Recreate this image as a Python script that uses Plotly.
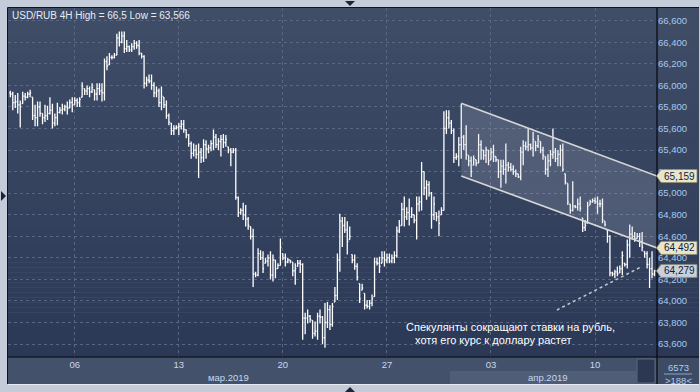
import plotly.graph_objects as go

# ---------------- data (USD/RUB, 4H bars) ----------------
high = [
65.95,65.94,65.91,65.93,65.86,65.94,65.93,65.94,65.96,65.89,
65.82,65.85,65.85,65.74,65.82,65.81,65.89,65.83,65.74,65.84,
65.80,65.83,65.82,65.85,65.87,65.89,65.89,65.88,65.89,66.03,
65.97,66.00,65.99,66.02,65.96,66.02,66.02,66.02,66.25,66.27,
66.30,66.28,66.30,66.48,66.50,66.50,66.50,66.42,66.37,66.39,
66.42,66.41,66.42,66.30,66.28,66.08,66.10,66.10,66.03,65.99,
65.97,65.99,65.89,65.86,65.74,65.65,65.63,65.63,65.65,65.68,
65.68,65.59,65.55,65.48,65.46,65.45,65.46,65.42,65.50,65.49,
65.45,65.49,65.59,65.55,65.51,65.54,65.55,65.54,65.43,65.42,
65.42,65.42,64.97,64.86,64.91,64.89,64.78,64.69,64.67,64.27,
64.49,64.47,64.46,64.40,64.43,64.46,64.43,64.38,64.35,64.58,
64.44,64.44,64.40,64.38,64.36,64.35,64.38,64.38,64.35,63.89,
63.92,63.87,63.82,63.81,63.89,63.92,63.86,63.98,63.99,63.96,
63.98,64.13,64.44,64.81,64.78,64.78,64.74,64.69,64.43,64.43,
64.35,64.16,64.16,64.07,64.01,64.01,64.06,64.40,64.40,64.41,
64.46,64.46,64.44,64.44,64.43,64.46,64.69,64.75,64.91,64.97,
64.87,64.95,64.87,64.80,64.97,64.97,65.29,65.20,65.12,65.11,
65.01,64.97,64.82,64.84,64.87,65.76,65.77,65.77,65.68,65.60,
65.37,65.52,65.83,65.54,65.63,65.35,65.34,65.35,65.31,65.55,
65.49,65.40,65.43,65.40,65.42,65.45,65.34,65.31,65.31,65.31,
65.46,65.29,65.28,65.26,65.22,65.18,65.43,65.49,65.48,65.60,
65.46,65.57,65.48,65.54,65.48,65.43,65.34,65.36,65.40,65.60,
65.42,65.40,65.45,65.46,65.18,65.09,64.90,65.11,64.89,64.95,
64.97,64.77,64.75,64.92,64.94,64.95,64.96,64.97,64.94,64.95,
64.74,64.66,64.61,64.27,64.29,64.32,64.33,64.46,64.35,64.57,
64.71,64.69,64.64,64.63,64.63,64.64,64.46,64.46,64.40,64.46,
64.29]

low = [
65.89,65.77,65.79,65.74,65.61,65.83,65.86,65.88,65.89,65.68,
65.62,65.62,65.71,65.64,65.66,65.68,65.73,65.60,65.62,65.63,
65.74,65.73,65.76,65.73,65.79,65.75,65.82,65.80,65.80,65.89,
65.91,65.91,65.89,65.93,65.86,65.86,65.91,65.85,65.86,66.14,
66.19,66.24,66.25,66.28,66.36,66.39,66.30,66.31,66.31,66.31,
66.33,66.34,66.28,66.25,65.97,65.99,66.02,65.96,65.89,65.89,
65.80,65.77,65.79,65.69,65.63,65.54,65.54,65.59,65.54,65.59,
65.56,65.51,65.43,65.32,65.34,65.32,65.14,65.28,65.29,65.32,
65.37,65.39,65.40,65.42,65.40,65.34,65.42,65.43,65.37,65.25,
65.37,64.94,64.78,64.80,64.75,64.69,64.66,64.57,64.13,64.22,
64.23,64.38,64.26,64.35,64.32,64.20,64.18,64.21,64.30,64.33,
64.38,64.32,64.35,64.35,64.23,64.15,64.32,64.26,63.64,63.69,
63.79,63.80,63.65,63.67,63.64,63.79,63.60,63.566,63.75,63.73,
63.76,63.99,64.01,64.27,64.50,64.63,64.43,64.57,64.35,64.29,
64.19,63.98,64.10,63.92,63.93,63.92,63.95,64.04,64.33,64.26,
64.35,64.32,64.35,64.35,64.35,64.35,64.40,64.63,64.70,64.69,
64.75,64.70,64.77,64.72,64.57,64.83,64.84,64.98,64.94,64.97,
64.67,64.75,64.74,64.60,64.80,64.84,65.55,65.60,65.55,65.28,
65.31,65.25,65.32,65.40,65.31,65.25,65.15,65.26,65.25,65.28,
65.31,65.31,65.28,65.26,65.31,65.29,65.29,65.14,65.05,65.17,
65.09,65.20,65.20,65.17,65.15,65.14,65.12,65.26,65.40,65.39,
65.40,65.34,65.39,65.42,65.37,65.31,65.17,65.15,65.25,65.32,
65.29,65.25,65.25,65.20,65.08,64.89,64.81,64.83,64.86,64.84,
64.83,64.64,64.65,64.72,64.89,64.91,64.90,64.81,64.87,64.72,
64.69,64.54,64.23,64.23,64.21,64.23,64.26,64.24,64.32,64.30,
64.40,64.57,64.55,64.58,64.50,64.46,64.40,64.30,64.12,64.21,
64.23]

open_ = [
65.93,65.92,65.84,65.85,65.82,65.83,65.90,65.89,65.92,65.89,
65.72,65.70,65.80,65.74,65.70,65.72,65.74,65.77,65.65,65.70,
65.75,65.77,65.78,65.80,65.79,65.84,65.82,65.86,65.84,65.89,
65.97,65.95,65.97,65.94,65.96,65.92,65.97,65.95,65.93,66.22,
66.19,66.26,66.26,66.28,66.44,66.40,66.46,66.34,66.36,66.33,
66.36,66.39,66.37,66.30,66.27,66.02,66.05,66.04,66.00,65.93,
65.95,65.84,65.89,65.82,65.72,65.65,65.58,65.60,65.61,65.62,
65.64,65.59,65.54,65.46,65.37,65.40,65.36,65.38,65.33,65.45,
65.41,65.42,65.46,65.52,65.45,65.48,65.50,65.47,65.43,65.40,
65.38,65.40,64.96,64.82,64.84,64.80,64.76,64.69,64.60,64.25,
64.24,64.44,64.40,64.35,64.37,64.40,64.24,64.38,64.30,64.33,
64.44,64.40,64.36,64.38,64.36,64.28,64.32,64.35,64.34,63.84,
63.84,63.86,63.82,63.70,63.72,63.86,63.85,63.66,63.80,63.92,
63.78,63.99,64.05,64.38,64.74,64.70,64.66,64.57,64.43,64.38,
64.32,64.16,64.10,64.07,63.96,63.95,63.98,64.04,64.36,64.35,
64.35,64.40,64.38,64.40,64.37,64.40,64.42,64.65,64.70,64.85,
64.78,64.82,64.78,64.80,64.75,64.90,64.92,65.20,65.05,65.08,
65.00,64.80,64.82,64.78,64.80,64.84,65.60,65.70,65.65,65.58,
65.33,65.34,65.45,65.52,65.45,65.35,65.30,65.26,65.31,65.28,
65.45,65.40,65.35,65.40,65.31,65.38,65.34,65.31,65.20,65.25,
65.22,65.26,65.24,65.22,65.20,65.18,65.15,65.38,65.44,65.43,
65.45,65.42,65.48,65.44,65.48,65.40,65.34,65.22,65.30,65.36,
65.38,65.32,65.36,65.40,65.18,65.09,64.90,64.84,64.88,64.87,
64.90,64.77,64.68,64.72,64.89,64.92,64.93,64.92,64.90,64.90,
64.74,64.66,64.60,64.26,64.25,64.27,64.26,64.30,64.35,64.34,
64.52,64.62,64.60,64.58,64.60,64.55,64.46,64.44,64.34,64.30,
64.25]

close = [
65.92,65.84,65.85,65.82,65.80,65.90,65.89,65.92,65.93,65.72,
65.70,65.80,65.74,65.70,65.72,65.74,65.77,65.65,65.70,65.75,
65.77,65.78,65.80,65.79,65.84,65.82,65.86,65.84,65.87,65.99,
65.95,65.97,65.94,65.98,65.92,65.97,65.95,65.93,66.22,66.18,
66.26,66.26,66.28,66.44,66.40,66.46,66.34,66.36,66.33,66.36,
66.39,66.37,66.30,66.27,66.02,66.05,66.04,66.00,65.93,65.95,
65.84,65.90,65.82,65.72,65.66,65.58,65.60,65.61,65.62,65.64,
65.59,65.54,65.46,65.37,65.40,65.36,65.38,65.33,65.45,65.41,
65.42,65.46,65.52,65.45,65.48,65.50,65.47,65.50,65.40,65.38,
65.40,64.96,64.82,64.84,64.80,64.76,64.70,64.60,64.25,64.24,
64.44,64.40,64.30,64.37,64.40,64.24,64.38,64.30,64.33,64.50,
64.40,64.36,64.38,64.37,64.28,64.30,64.35,64.34,63.84,63.84,
63.86,63.83,63.70,63.72,63.86,63.85,63.66,63.80,63.92,63.78,
63.95,64.05,64.38,64.74,64.70,64.66,64.55,64.60,64.38,64.32,
64.22,64.02,64.12,63.96,63.95,63.98,64.02,64.36,64.35,64.32,
64.40,64.38,64.40,64.37,64.40,64.42,64.65,64.70,64.85,64.78,
64.82,64.78,64.80,64.75,64.90,64.92,65.20,65.05,65.08,65.00,
64.80,64.90,64.78,64.72,64.84,65.60,65.70,65.65,65.58,65.33,
65.34,65.45,65.52,65.45,65.36,65.30,65.20,65.32,65.28,65.45,
65.40,65.35,65.40,65.30,65.38,65.34,65.31,65.20,65.25,65.22,
65.26,65.24,65.22,65.20,65.18,65.15,65.38,65.44,65.43,65.45,
65.42,65.50,65.44,65.50,65.40,65.35,65.22,65.30,65.36,65.38,
65.32,65.36,65.40,65.22,65.10,64.92,64.84,64.88,64.87,64.90,
64.86,64.68,64.70,64.88,64.92,64.93,64.92,64.90,64.90,64.75,
64.71,64.60,64.26,64.25,64.27,64.25,64.30,64.42,64.34,64.52,
64.62,64.60,64.58,64.60,64.55,64.50,64.44,64.34,64.30,64.25,
64.279]

bars = list(range(len(high)))

tick_vals = [26, 68, 110, 152, 194, 236]
tick_text = ["06", "13", "20", "27", "03", "10"]
month_pos = [88, 217]
month_text = ["мар.2019", "апр.2019"]

channel_x = [182, 261]
channel_upper = [65.834, 65.159]
channel_lower = [65.159, 64.492]
trend_x = [220.6, 254.5]
trend_y = [63.916, 64.315]

price_labels = [65.159, 64.492, 64.279]
price_label_text = ["65,159", "64,492", "64,279"]
price_label_bg = ["#e9e5c9", "#e9e5c9", "#c9d0da"]

title_text = "USD/RUB 4H High = 66,5 Low = 63,566"
note_lines = ["Спекулянты сокращают ставки на рубль,", "хотя его курс к доллару растет"]

# ---------------- layout helpers ----------------
W, H = 700, 392
L, R, T, B = 8, 657, 8, 357
YMIN, YMAX = 63.480, 66.718
XMIN, XMAX = -0.93, 261.0
FONT = "Liberation Sans"


def px(x):
    return (x - L) / (R - L)


def py(y):
    return (B - y) / (B - T)


def lerp(c1, c2, t):
    return tuple(round(a + (b - a) * t) for a, b in zip(c1, c2))


shapes = []
top_c, bot_c = (63, 77, 103), (43, 57, 87)
N = 70
for k in range(N):
    y0 = T + k * (B - T) / N
    y1 = T + (k + 1) * (B - T) / N + 0.6
    c = lerp(top_c, bot_c, k / (N - 1))
    col = "rgb(%d,%d,%d)" % c
    for xa, xb in ((L, R), (R, 699)):
        shapes.append(dict(type="rect", xref="paper", yref="paper", layer="below",
                           x0=px(xa), x1=px(xb), y0=py(y1), y1=py(y0),
                           line=dict(width=0), fillcolor=col))


def rect(x0, y0, x1, y1, fill, line=None, layer="below"):
    shapes.append(dict(type="rect", xref="paper", yref="paper", layer=layer,
                       x0=px(x0), x1=px(x1), y0=py(y1), y1=py(y0),
                       line=line or dict(width=0), fillcolor=fill))


def seg(x0, y0, x1, y1, color, width=1, layer="above"):
    shapes.append(dict(type="line", xref="paper", yref="paper", layer=layer,
                       x0=px(x0), x1=px(x1), y0=py(y0), y1=py(y1),
                       line=dict(color=color, width=width)))


def tri(pts, color):
    p = "M " + " L ".join("%f,%f" % (px(a), py(b)) for a, b in pts) + " Z"
    shapes.append(dict(type="path", xref="paper", yref="paper", layer="above",
                       path=p, fillcolor=color, line=dict(width=0)))


# bottom strip & boxes
rect(L, B, R, 384, "rgb(67,81,107)")
rect(450, 371, 636, 384, "rgb(79,93,119)")
rect(637, 359, 655, 383, "rgb(44,56,82)", line=dict(color="rgb(90,104,130)", width=1))
rect(R, B, 699, 384, "rgb(61,75,101)")
seg(664, 374, 692, 374, "rgb(140,165,200)", 1)
# borders
seg(L - 0.5, T - 0.5, 699, T - 0.5, "#10141f", 1)
seg(L - 0.5, T - 0.5, L - 0.5, 384, "#10141f", 1)
seg(R, T, R, 384, "#05070c", 1.2)
seg(L, B, 699, B, "#05070c", 1.2)
seg(L, 384.5, 699, 384.5, "#e9edf3", 1)
# frame triangles
tri([(345, 1), (355, 1), (350, 6)], "#1c2438")
tri([(1, 191), (1, 201), (6, 196)], "#1c2438")
tri([(345, 392), (355, 392), (350, 387)], "#1c2438")

# price label tags on the right axis
pp = (YMAX - YMIN) / (B - T)
annotations = []
for v, t, bg in zip(price_labels, price_label_text, price_label_bg):
    hh = 6.5 * pp
    path = ("M %f,%f L %f,%f L %f,%f L %f,%f L %f,%f Z" %
            (px(656.5), v, px(661), v + hh, px(697), v + hh, px(697), v - hh, px(661), v - hh))
    shapes.append(dict(type="path", xref="paper", yref="y", layer="above", path=path,
                       fillcolor=bg, line=dict(color="#8c8a70", width=0.8)))
    annotations.append(dict(x=px(679.5), y=v, xref="paper", yref="y", text=t, showarrow=False,
                            xanchor="center", yanchor="middle",
                            font=dict(family=FONT, size=10, color="#0c1d45")))

annotations.append(dict(x=px(10), y=py(15.5), xref="paper", yref="paper", text=title_text,
                        showarrow=False, xanchor="left", yanchor="middle",
                        font=dict(family=FONT, size=10, color="#e6ecf4")))
annotations.append(dict(x=px(404), y=py(327), xref="paper", yref="paper", text=note_lines[0],
                        showarrow=False, xanchor="left", yanchor="middle",
                        font=dict(family=FONT, size=11, color="#ffffff")))
annotations.append(dict(x=px(413), y=py(339.5), xref="paper", yref="paper", text=note_lines[1],
                        showarrow=False, xanchor="left", yanchor="middle",
                        font=dict(family=FONT, size=11, color="#ffffff")))
for mx, mt in zip(month_pos, month_text):
    annotations.append(dict(x=mx, y=py(377.5), xref="x", yref="paper", text=mt,
                            showarrow=False, xanchor="center", yanchor="middle",
                            font=dict(family=FONT, size=9.5, color="#c6d8ee")))
annotations.append(dict(x=px(678), y=py(367), xref="paper", yref="paper", text="6573",
                        showarrow=False, xanchor="center", yanchor="middle",
                        font=dict(family=FONT, size=9.5, color="#aecbef")))
annotations.append(dict(x=px(678), y=py(380.5), xref="paper", yref="paper", text="&gt;188&lt;",
                        showarrow=False, xanchor="center", yanchor="middle",
                        font=dict(family=FONT, size=9.5, color="#aecbef")))

fig = go.Figure()
# channel
fig.add_trace(go.Scatter(x=channel_x + channel_x[::-1], y=channel_upper + channel_lower[::-1],
                         fill="toself", fillcolor="rgba(190,196,212,0.20)", mode="lines",
                         line=dict(width=0), hoverinfo="skip"))
fig.add_trace(go.Scatter(x=channel_x, y=channel_upper, mode="lines",
                         line=dict(color="#d6d6d6", width=1.6), hoverinfo="skip"))
fig.add_trace(go.Scatter(x=channel_x, y=channel_lower, mode="lines",
                         line=dict(color="#d6d6d6", width=1.6), hoverinfo="skip"))
fig.add_trace(go.Scatter(x=trend_x, y=trend_y, mode="lines",
                         line=dict(color="#c8c8c8", width=1.5, dash="dot"), hoverinfo="skip"))
fig.add_trace(go.Ohlc(x=bars, open=open_, high=high, low=low, close=close,
                      increasing=dict(line=dict(color="#ffffff", width=1.3)),
                      decreasing=dict(line=dict(color="#ffffff", width=1.3)),
                      tickwidth=0.42, hoverinfo="skip"))

fig.update_layout(
    width=W, height=H, margin=dict(l=L, r=W - R, t=T, b=H - B),
    paper_bgcolor="#c3ccd8", plot_bgcolor="rgba(0,0,0,0)",
    showlegend=False, separators=",.", hovermode=False,
    shapes=shapes, annotations=annotations,
    xaxis=dict(range=[XMIN, XMAX], tickvals=tick_vals, ticktext=tick_text,
               showgrid=True, gridcolor="#5a6781", griddash="3px,3px", gridwidth=1,
               zeroline=False, showline=False, ticks="", rangeslider=dict(visible=False),
               tickfont=dict(family=FONT, size=9.5, color="#c6d8ee")),
    yaxis=dict(range=[YMIN, YMAX], side="right", tick0=63.6, dtick=0.2, tickformat=".3f",
               showgrid=True, gridcolor="#5a6781", griddash="3px,3px", gridwidth=1,
               zeroline=False, showline=False, ticks="",
               tickfont=dict(family=FONT, size=9.5, color="#a9c8ee")),
)

fig.write_html("out.html", config={"displayModeBar": False, "staticPlot": True},
               post_script="document.body.style.margin='0';document.body.style.background='#c3ccd8';")
